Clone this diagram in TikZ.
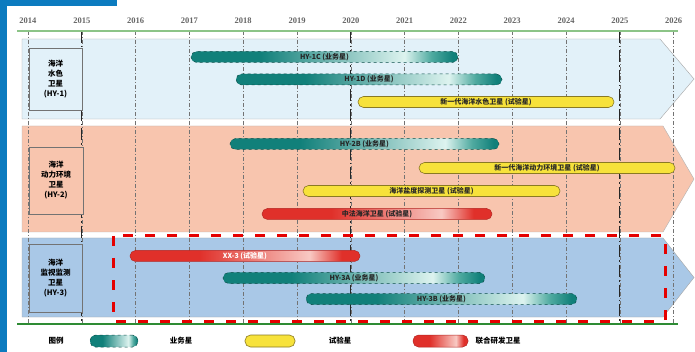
\documentclass[tikz,border=0pt]{standalone}
\usepackage{fontspec}
\setmainfont{Liberation Serif}
\newfontfamily\cjk{Noto Sans CJK SC}
\usepackage{xcolor}

\definecolor{edgeblue}{HTML}{0C7BBF}
\definecolor{hyonefill}{HTML}{E2F1F9}
\definecolor{hytwofill}{HTML}{F8C5AE}
\definecolor{hythreefill}{HTML}{A9C8E7}
\definecolor{tealdk}{HTML}{11807A}
\definecolor{tealmd}{HTML}{4FAAA0}
\definecolor{teallt}{HTML}{DDF3EF}
\definecolor{reddk}{HTML}{E0302A}
\definecolor{redlt}{HTML}{F8C9C3}
\definecolor{testyellow}{HTML}{F7E23B}
\definecolor{testedge}{HTML}{8A7A24}
\definecolor{lightgreen}{HTML}{8CC487}
\definecolor{darkgreen}{HTML}{2E8B34}

\pgfdeclarehorizontalshading{tealbar}{100bp}{color(0bp)=(tealdk); color(25bp)=(tealdk); color(38bp)=(tealdk); color(65bp)=(teallt); color(70bp)=(tealmd); color(74bp)=(tealdk); color(100bp)=(tealdk)}
\pgfdeclarehorizontalshading{redbar}{100bp}{color(0bp)=(reddk); color(25bp)=(reddk); color(40bp)=(reddk); color(64bp)=(redlt); color(71bp)=(reddk); color(75bp)=(reddk); color(100bp)=(reddk)}

\begin{document}
\begin{tikzpicture}[x=1pt, y=-1pt]
\tikzstyle{every node}=[font=\cjk\fontsize{7.5}{8}\selectfont\bfseries]
\tikzstyle{yearlab}=[font=\fontsize{8.5}{9}\selectfont\bfseries, text=black!60]
\tikzstyle{gridline}=[black!55, line width=0.5pt, dash pattern=on 4pt off 2pt on 1pt off 2pt]
\tikzstyle{bigline}=[black!85, line width=1.3pt, dash pattern=on 12pt off 3pt on 1.5pt off 3pt]
\tikzstyle{labelbox}=[draw=black!55, line width=0.6pt, align=center, inner sep=0pt,
    font=\cjk\fontsize{7.5}{10}\selectfont\bfseries]
\tikzstyle{bar}=[rounded corners=5.5pt, minimum height=11pt, inner sep=0pt, text=black!85,
    font=\cjk\fontsize{7}{7}\selectfont\bfseries]
\tikzstyle{bizbar}=[bar, shading=tealbar, draw=tealdk!60!black, dashed, line width=0.5pt]
\tikzstyle{testbar}=[bar, fill=testyellow, draw=testedge, line width=0.6pt]
\tikzstyle{jointbar}=[bar, shading=redbar, draw=reddk!80!black, line width=0.5pt]

\useasboundingbox (0,0) rectangle (695,352);
\fill[white] (0,0) rectangle (695,352);

% blue page edge
\fill[edgeblue] (0,0) rectangle (117,6);
\fill[edgeblue] (0,0) rectangle (7,352);

% bands
\draw[fill=hyonefill, draw=black!35] (22,39) -- (660,39) -- (694,79) -- (660,119) -- (22,119) -- cycle; % HY-1
\draw[fill=hytwofill, draw=black!30] (22,126) -- (663,126) -- (694,179) -- (663,232) -- (22,232) -- cycle; % HY-2
\draw[fill=hythreefill, draw=black!35] (22,238) -- (663,238) -- (694,277.5) -- (663,317) -- (22,317) -- cycle; % HY-3

% years
\foreach \yr [count=\i from 0] in {2014,...,2026} {
    \node[yearlab] (y\yr) at (28+\i*53.8, 21) {\yr};
    \draw[gridline] (28+\i*53.8, 31) -- (28+\i*53.8, 323);
}
\foreach \yr in {2015, 2020, 2025}
    \draw[bigline] (y\yr.south |- 0,31) -- (y\yr.south |- 0,323);

\draw[lightgreen, line width=1.2pt] (17,31) -- (678,31);

% joint development frame
\draw[red!90!black, line width=3pt, dash pattern=on 10pt off 12pt] (113,236) rectangle (665,321);

\draw[darkgreen, line width=2pt] (17,324) -- (678,324);

% series boxes
\node[labelbox, fill=hyonefill, minimum width=53pt, minimum height=62pt] (hy1) at (55.5,79)
    {海洋\\水色\\卫星\\(HY-1)};
\node[labelbox, fill=hytwofill, minimum width=54pt, minimum height=67pt] (hy2) at (56,180.5)
    {海洋\\动力环境\\卫星\\(HY-2)};
\node[labelbox, fill=hythreefill, minimum width=53pt, minimum height=68pt] (hy3) at (55.5,278)
    {海洋\\监视监测\\卫星\\(HY-3)};

% HY-1
\node[bizbar, minimum width=267pt] (hy1c) at (324.5,57) {HY-1C (业务星)};
\node[bizbar, minimum width=266pt] (hy1d) at (369,79.5) {HY-1D (业务星)};
\node[testbar, minimum width=256pt] (newcolor) at (486,102) {新一代海洋水色卫星 (试验星)};

% HY-2
\node[bizbar, minimum width=269pt] (hy2b) at (364.5,144) {HY-2B (业务星)};
\node[testbar, minimum width=256pt] (newdyn) at (547,168) {新一代海洋动力环境卫星 (试验星)};
\node[testbar, minimum width=257pt] (salinity) at (431.5,191) {海洋盐度探测卫星 (试验星)};
\node[jointbar, minimum width=230pt] (cfosat) at (377,214) {中法海洋卫星 (试验星)};

% HY-3
\node[jointbar, minimum width=230pt, text=white] (xx3) at (245,256) {XX-3 (试验星)};
\node[bizbar, minimum width=262pt] (hy3a) at (354,278) {HY-3A (业务星)};
\node[bizbar, minimum width=271pt] (hy3b) at (441.5,299) {HY-3B (业务星)};

% legend
\node (legend) at (56,341) {图例};
\node[bizbar, minimum width=48pt, minimum height=12pt] (keybiz) at (114,341) {};
\node (keybiztext) at (181,341) {业务星};
\node[testbar, minimum width=50pt, minimum height=12pt] (keytest) at (270,341) {};
\node (keytesttext) at (340,341) {试验星};
\node[jointbar, minimum width=55pt, minimum height=12pt] (keyjoint) at (440.5,341) {};
\node (keyjointtext) at (498,341) {联合研发卫星};
\end{tikzpicture}
\end{document}
